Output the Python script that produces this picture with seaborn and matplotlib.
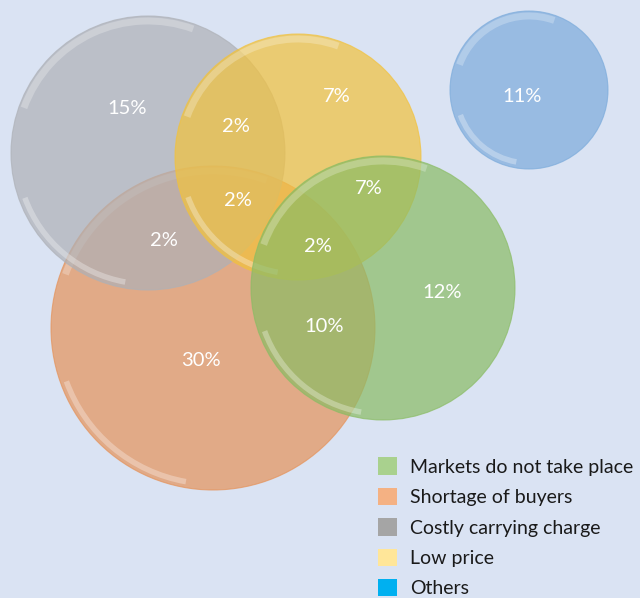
import numpy as np
import matplotlib
matplotlib.use("Agg")
import matplotlib.pyplot as plt
from matplotlib.patches import Circle, Arc, Patch
import seaborn as sns

# categories and values
categories = ["Markets do not take place", "Shortage of buyers", "Costly carrying charge", "Low price", "Others"]
legend_colors = ["#A9D18E", "#F4B183", "#A5A5A5", "#FFE699", "#00B0F0"]

# bubble layout (drawing order: orange, gray, yellow, green, blue)
bubble_names = ["Shortage of buyers", "Costly carrying charge", "Low price", "Markets do not take place", "Others"]
bubble_x = [213, 148, 298, 383, 529]
bubble_y = [328, 153, 157, 288, 90]
bubble_r = [162, 137, 123, 132, 79]
bubble_colors = ["#E59259", "#AEB1B7", "#F2C23C", "#8ABC64", "#7CABDB"]

# region labels
region_labels = ["15%", "2%", "7%", "11%", "7%", "2%", "2%", "2%", "12%", "10%", "30%"]
region_x = [127, 236, 337, 522, 369, 238, 164, 318, 442, 324, 201]
region_y = [108, 127, 97, 97, 188, 200, 240, 246, 293, 326, 361]

BG = "#DAE3F3"

sns.set_style("white")
plt.rcParams["font.family"] = ["Lato", "DejaVu Sans"]

fig = plt.figure(figsize=(6.4, 5.98), dpi=100)
fig.patch.set_facecolor(BG)
ax = fig.add_axes([0, 0, 1, 1])
ax.set_facecolor(BG)
ax.set_xlim(0, 640)
ax.set_ylim(598, 0)
ax.set_aspect("equal")
ax.axis("off")

for x, y, r, c in zip(bubble_x, bubble_y, bubble_r, bubble_colors):
    ax.add_patch(Circle((x, y), r, facecolor=c, edgecolor=c, linewidth=0.8, alpha=0.7))
    # glossy highlights (y axis is inverted, so angles are mirrored)
    ax.add_patch(Arc((x, y), 2 * r - 12, 2 * r - 12, theta1=100, theta2=160,
                     color="white", linewidth=4, alpha=0.3))
    ax.add_patch(Arc((x, y), 2 * r - 10, 2 * r - 10, theta1=200, theta2=290,
                     color="white", linewidth=5, alpha=0.25))

for t, x, y in zip(region_labels, region_x, region_y):
    ax.text(x, y, t, color="white", fontsize=14.5, ha="center", va="center")

handles = [Patch(facecolor=c, edgecolor="none") for c in legend_colors]
ax.legend(handles, categories, loc="lower left", bbox_to_anchor=(0.578, -0.012),
          frameon=False, fontsize=14, handlelength=1.0, handleheight=1.0,
          handletextpad=0.65, labelspacing=0.62, borderaxespad=0,
          labelcolor="#1a1a1a")

plt.savefig("out.png", dpi=100, facecolor=BG)
plt.close()
